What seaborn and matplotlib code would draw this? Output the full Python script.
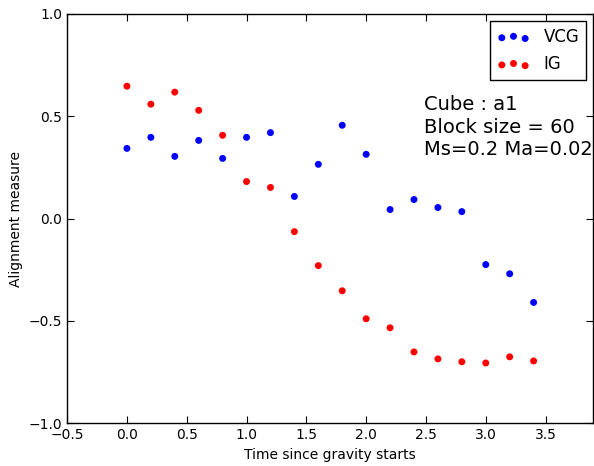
import numpy as np
import pandas as pd
import matplotlib
matplotlib.use("Agg")
import matplotlib.pyplot as plt
import seaborn as sns

# time steps and the two alignment series
time = [0.0, 0.2, 0.4, 0.6, 0.8, 1.0, 1.2, 1.4, 1.6, 1.8,
        2.0, 2.2, 2.4, 2.6, 2.8, 3.0, 3.2, 3.4]
vcg = [0.343, 0.397, 0.304, 0.382, 0.294, 0.397, 0.42, 0.108, 0.265, 0.456,
       0.314, 0.044, 0.093, 0.054, 0.034, -0.225, -0.27, -0.41]
ig = [0.647, 0.559, 0.618, 0.529, 0.407, 0.181, 0.152, -0.064, -0.23, -0.353,
      -0.49, -0.534, -0.652, -0.686, -0.70, -0.706, -0.676, -0.696]

series_names = ["VCG", "IG"]
series_colors = ["blue", "red"]

sns.set_style("ticks", {"xtick.direction": "in", "ytick.direction": "in",
                        "text.color": "black", "axes.labelcolor": "black",
                        "xtick.color": "black", "ytick.color": "black",
                        "axes.edgecolor": "black"})
plt.rcParams["font.family"] = ["DejaVu Sans"]

fig = plt.figure(figsize=(5.94, 4.66), dpi=100)
ax = fig.add_axes([0.113, 0.092, 0.886, 0.878])

for name, values, color in zip(series_names, [vcg, ig], series_colors):
    df = pd.DataFrame({"time": time, "value": values})
    sns.scatterplot(data=df, x="time", y="value", ax=ax, color=color,
                    s=25, edgecolor="none", label=name, legend=False)

ax.set_xlim(-0.5, 3.9)
ax.set_ylim(-1.0, 1.0)
ax.set_xticks(np.arange(-0.5, 3.51, 0.5))
ax.set_yticks(np.arange(-1.0, 1.01, 0.5))
ax.tick_params(top=True, right=True, labelsize=10, length=5, width=0.8)
ax.set_xlabel("Time since gravity starts", fontsize=10)
ax.set_ylabel("Alignment measure", fontsize=10)
for sp in ax.spines.values():
    sp.set_linewidth(1.0)

ax.legend(loc="upper right", scatterpoints=3,
          scatteryoffsets=[0.375, 0.5, 0.3125], fontsize=12,
          fancybox=False, edgecolor="black", framealpha=1,
          borderaxespad=0.45, handletextpad=0.8, labelspacing=0.55)

ax.text(2.48, 0.605, "Cube : a1\nBlock size = 60\nMs=0.2 Ma=0.02",
        fontsize=14, va="top", ha="left", linespacing=1.25)

fig.savefig("out.png", dpi=100)
